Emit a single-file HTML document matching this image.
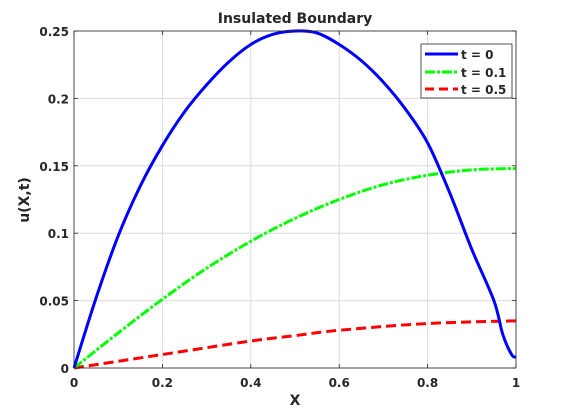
<!DOCTYPE html>
<html><head><meta charset="utf-8"><style>
body{margin:0;background:#fff;}
svg text{font-family:"DejaVu Sans","Liberation Sans",sans-serif;font-weight:bold;fill:#262626;}
</style></head><body>
<svg id="chart" width="570" height="413" viewBox="0 0 570 413">
<rect width="570" height="413" fill="#fff"/>
<g id="grid"></g>
<g id="series"></g>
<g id="axes"></g>
<text x="295" y="23" text-anchor="middle" font-size="14">Insulated Boundary</text>
<text x="295" y="405" text-anchor="middle" font-size="14">X</text>
<text transform="translate(29,200) rotate(-90)" text-anchor="middle" font-size="14">u(X,t)</text>
<g>
<rect x="421" y="44" width="91" height="54" fill="#fff" stroke="#262626" stroke-width="0.8"/>
<line x1="425" y1="54" x2="458" y2="54" stroke="#0000ff" stroke-width="3"/>
<text x="461" y="59" font-size="12">t = 0</text>
<line x1="425" y1="72" x2="458" y2="72" stroke="#00ff00" stroke-width="3" stroke-dasharray="10,2,3,2"/>
<text x="461" y="77" font-size="12">t = 0.1</text>
<line x1="425" y1="89" x2="458" y2="89" stroke="#ff0000" stroke-width="3" stroke-dasharray="9,5"/>
<text x="461" y="94" font-size="12">t = 0.5</text>
</g>
</svg>
<script>
const xs0=[0,0.05,0.1,0.15,0.2,0.25,0.3,0.35,0.4,0.45,0.5,0.55,0.6,0.65,0.7,0.75,0.8,0.85,0.9,0.95,0.97,0.99,1.0];
const u0=[0,0.052,0.098,0.135,0.165,0.19,0.21,0.227,0.240,0.2475,0.25,0.2485,0.240,0.228,0.212,0.192,0.167,0.130,0.088,0.050,0.025,0.010,0.008];
const xs1=[0,0.1,0.2,0.3,0.4,0.5,0.6,0.7,0.8,0.9,1.0];
const u1=[0,0.026,0.051,0.074,0.094,0.111,0.125,0.136,0.143,0.147,0.148];
const xs2=[0,0.2,0.4,0.5,0.6,0.8,1.0];
const u2=[0,0.010,0.020,0.024,0.028,0.033,0.035];
const xTicks=[0,0.2,0.4,0.6,0.8,1];
const xTickLabels=["0","0.2","0.4","0.6","0.8","1"];
const yTicks=[0,0.05,0.1,0.15,0.2,0.25];
const yTickLabels=["0","0.05","0.1","0.15","0.2","0.25"];
const L=74,R=516,T=31,B=368;
const sx=v=>L+(R-L)*v;
const sy=v=>B-(B-T)*v/0.25;
const NS="http://www.w3.org/2000/svg";
function mk(tag,attrs,parent){const e=document.createElementNS(NS,tag);for(const k in attrs)e.setAttribute(k,attrs[k]);parent.appendChild(e);return e;}
const grid=document.getElementById('grid'),axes=document.getElementById('axes'),ser=document.getElementById('series');
xTicks.forEach((t,i)=>{
  const g=mk('line',{x1:sx(t),x2:sx(t),y1:T,y2:B,stroke:'#dcdcdc','stroke-width':1},grid);
  
  
  mk('line',{x1:sx(t),x2:sx(t),y1:B,y2:B-4,stroke:'#262626','stroke-width':0.8},axes);
  mk('line',{x1:sx(t),x2:sx(t),y1:T,y2:T+4,stroke:'#262626','stroke-width':0.8},axes);
  const tx=mk('text',{x:sx(t),y:B+19,'text-anchor':'middle','font-size':12},axes);
  tx.textContent=xTickLabels[i];
  
  
});
yTicks.forEach((t,i)=>{
  const g=mk('line',{x1:L,x2:R,y1:sy(t),y2:sy(t),stroke:'#dcdcdc','stroke-width':1},grid);
  
  
  mk('line',{x1:L,x2:L+4,y1:sy(t),y2:sy(t),stroke:'#262626','stroke-width':0.8},axes);
  mk('line',{x1:R,x2:R-4,y1:sy(t),y2:sy(t),stroke:'#262626','stroke-width':0.8},axes);
  const tx=mk('text',{x:L-5,y:sy(t)+5,'text-anchor':'end','font-size':12},axes);
  tx.textContent=yTickLabels[i];
  
  
});
const box=mk('rect',{x:L,y:T,width:R-L,height:B-T,fill:'none',stroke:'#262626','stroke-width':0.8},axes);


function path(xs,ys){
  const p=xs.map((x,i)=>[sx(x),sy(ys[i])]);
  let d='M'+p[0][0]+','+p[0][1];
  for(let i=0;i<p.length-1;i++){
    const p0=p[i-1]||p[i],p1=p[i],p2=p[i+1],p3=p[i+2]||p2;
    d+=` C${p1[0]+(p2[0]-p0[0])/6},${p1[1]+(p2[1]-p0[1])/6} ${p2[0]-(p3[0]-p1[0])/6},${p2[1]-(p3[1]-p1[1])/6} ${p2[0]},${p2[1]}`;
  }
  return d;
}
const s2=mk('path',{d:path(xs2,u2),fill:'none',stroke:'#ff0000','stroke-width':3,'stroke-dasharray':'10,5'},ser);


const s1=mk('path',{d:path(xs1,u1),fill:'none',stroke:'#00ff00','stroke-width':3,'stroke-dasharray':'10,2,3,2'},ser);


const s0=mk('path',{d:path(xs0,u0),fill:'none',stroke:'#0000ff','stroke-width':3},ser);


</script>
</body></html>
